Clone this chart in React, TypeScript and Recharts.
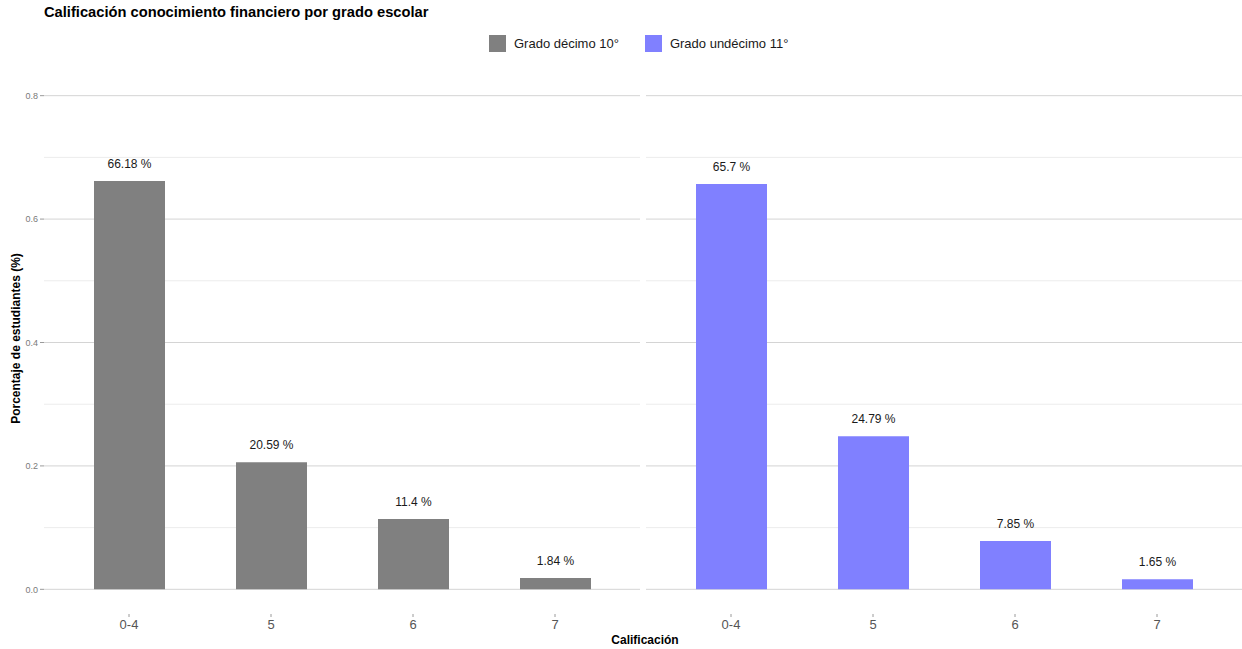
import React from "react";
import {
  BarChart,
  Bar,
  XAxis,
  YAxis,
  CartesianGrid,
  LabelList,
} from "recharts";

// Calificación categories and share of students per grade
const categories = ["0-4", "5", "6", "7"];
const decimo = [0.6618, 0.2059, 0.114, 0.0184];
const undecimo = [0.657, 0.2479, 0.0785, 0.0165];
const yTicks = [0, 0.2, 0.4, 0.6, 0.8];
const yMinor = [0.1, 0.3, 0.5, 0.7];

const FONT = "'Liberation Sans', Arial, sans-serif";
const H = 649;
const MARGIN = { top: 71, right: 0, bottom: 5, left: 0 };

const fmtPct = (v: number) => `${+(v * 100).toFixed(2)} %`;

function Panel({
  values,
  color,
  showY,
  width,
}: {
  values: number[];
  color: string;
  showY: boolean;
  width: number;
}) {
  const data = categories.map((c, i) => ({ cat: c, value: values[i] }));
  return (
    <BarChart width={width} height={H} data={data} margin={MARGIN}>
      <CartesianGrid
        vertical={false}
        horizontalValues={yMinor}
        stroke="#ececec"
        strokeWidth={1}
      />
      <CartesianGrid
        vertical={false}
        horizontalValues={yTicks}
        stroke="#d4d4d4"
        strokeWidth={1}
      />
      <XAxis
        dataKey="cat"
        axisLine={false}
        tickLine={{ stroke: "#9a9a9a" }}
        tickSize={3}
        tickMargin={3}
        height={30}
        padding={{ left: 14, right: 14 }}
        tick={{ fontSize: 13, fill: "#555555", fontFamily: FONT }}
      />
      <YAxis
        hide={!showY}
        width={44}
        domain={[-0.04, 0.84]}
        ticks={yTicks}
        allowDataOverflow
        axisLine={false}
        tickLine={{ stroke: "#9a9a9a" }}
        tickSize={4}
        tickMargin={2}
        tickFormatter={(v: number) => v.toFixed(1)}
        tick={{ fontSize: 9, fill: "#7a7a7a", fontFamily: FONT }}
        label={(props: any) => {
          const vb = props.viewBox || {};
          const cx = 16;
          const cy = (vb.y ?? 71) + (vb.height ?? 543) / 2 - 4;
          return (
            <text
              x={cx}
              y={cy}
              transform={`rotate(-90 ${cx} ${cy})`}
              textAnchor="middle"
              dominantBaseline="central"
              fontSize={12}
              fontWeight="bold"
              fontFamily={FONT}
              fill="#000"
            >
              Porcentaje de estudiantes (%)
            </text>
          );
        }}
      />
      <Bar dataKey="value" fill={color} barSize={71} isAnimationActive={false}>
        <LabelList
          dataKey="value"
          position="top"
          offset={13}
          formatter={(v: any) => fmtPct(Number(v))}
          style={{ fontSize: 12, fill: "#1a1a1a", fontFamily: FONT }}
        />
      </Bar>
    </BarChart>
  );
}

export default function App() {
  return (
    <div
      style={{
        position: "absolute",
        left: 0,
        top: 0,
        width: 1242,
        height: H,
        background: "#fff",
        fontFamily: FONT,
        overflow: "hidden",
      }}
    >
      <div
        style={{
          position: "absolute",
          left: 44,
          top: 4,
          fontSize: 14.7,
          fontWeight: "bold",
          color: "#000",
        }}
      >
        Calificación conocimiento financiero por grado escolar
      </div>
      <div
        style={{
          position: "absolute",
          left: 489,
          top: 35,
          display: "flex",
          alignItems: "center",
          fontSize: 13,
          color: "#1a1a1a",
        }}
      >
        <span style={{ width: 17, height: 17, background: "#808080", display: "inline-block" }} />
        <span style={{ marginLeft: 8 }}>Grado décimo 10°</span>
        <span
          style={{
            width: 17,
            height: 17,
            background: "#8080ff",
            display: "inline-block",
            marginLeft: 26,
          }}
        />
        <span style={{ marginLeft: 8 }}>Grado undécimo 11°</span>
      </div>
      <div style={{ position: "absolute", left: 0, top: 0 }}>
        <Panel values={decimo} color="#808080" showY width={640} />
      </div>
      <div style={{ position: "absolute", left: 646, top: 0 }}>
        <Panel values={undecimo} color="#8080ff" showY={false} width={596} />
      </div>
      <div
        style={{
          position: "absolute",
          left: 0,
          width: 1290,
          top: 633,
          textAlign: "center",
          fontSize: 12,
          fontWeight: "bold",
          color: "#000",
        }}
      >
        Calificación
      </div>
    </div>
  );
}
